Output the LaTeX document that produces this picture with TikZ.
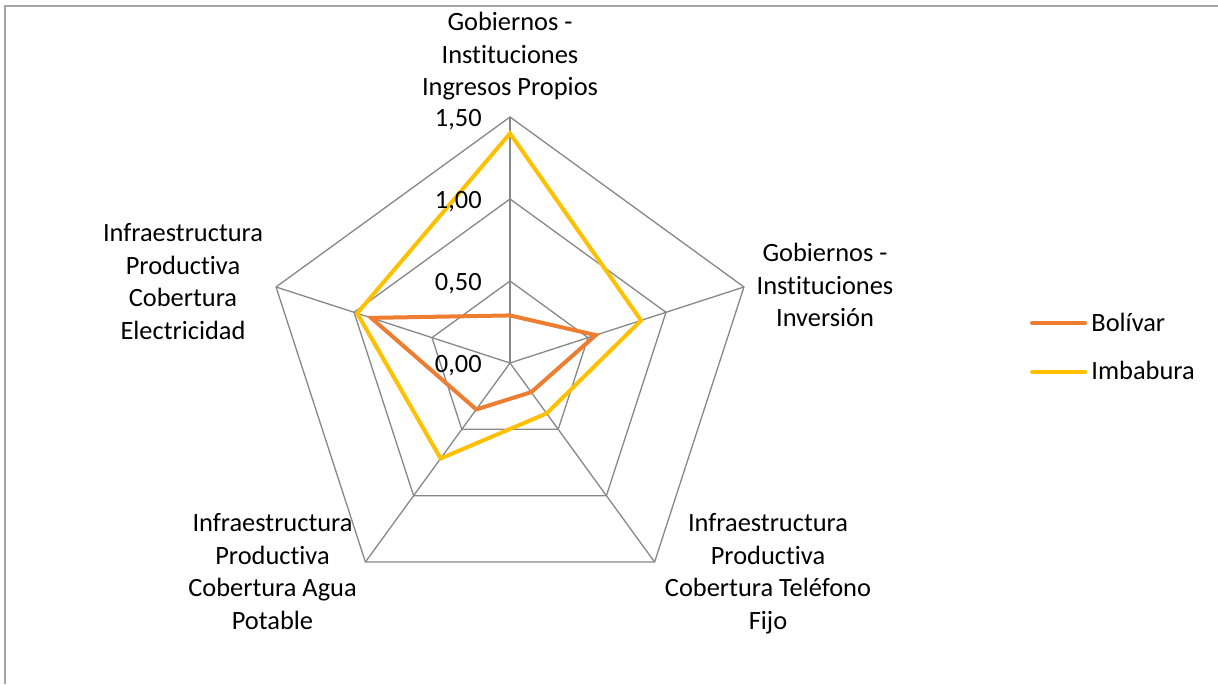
\documentclass[tikz,border=0pt]{standalone}
\usepackage{fontspec}
\setmainfont[Ligatures={NoCommon,NoRequired,NoContextual},Contextuals={NoAlternate}]{Carlito}
\definecolor{gridgray}{HTML}{878787}
\definecolor{marcogray}{HTML}{A6A6A6}
\definecolor{bolivar}{HTML}{ED7D31}
\definecolor{imbabura}{HTML}{FFC000}
\newcommand\etiqueta{\fontsize{13.2}{16.25}\selectfont}
\begin{document}
\begin{tikzpicture}[x=0.5pt,y=0.5pt]
    % Styles
    \tikzstyle{grid} = [draw=gridgray, line width=0.65pt, line join=miter]
    \tikzstyle{serie} = [line width=2pt, line join=miter]
    \tikzstyle{eje} = [font=\etiqueta, align=center, inner sep=0pt, anchor=base]
    \tikzstyle{valor} = [font=\etiqueta, inner sep=0pt, anchor=base east]
    \tikzstyle{leyenda} = [font=\etiqueta, inner sep=0pt, anchor=base west]

    \useasboundingbox (0,0) rectangle (1218,684);
    % Marco
    \draw[marcogray, line width=1pt] (5,0) |- (1218,678);

    \coordinate (centro) at (510,321);
    \begin{scope}[shift={(centro)}]
        % Vertices
        \foreach \a [count=\i] in {90,18,-54,-126,162}
            \coordinate (v\i) at (\a:246);
        % Red
        \foreach \r in {82,164,246}
            \draw[grid] (90:\r) -- (18:\r) -- (-54:\r) -- (-126:\r) -- (162:\r) -- cycle;
        \foreach \i in {1,...,5}
            \draw[grid] (centro) -- (v\i);
        % Series
        \draw[serie, bolivar] (90:0.29*164) -- (18:0.55*164) -- (-54:0.22*164)
            -- (-126:0.35*164) -- (162:0.89*164) -- cycle;
        \draw[serie, imbabura] (90:1.40*164) -- (18:0.84*164) -- (-54:0.38*164)
            -- (-126:0.72*164) -- (162:0.98*164) -- cycle;
    \end{scope}

    % Valores
    \node (t150) [valor] at (482,557) {1,50};
    \node (t100) [valor] at (482,475) {1,00};
    \node (t050) [valor] at (482,393) {0,50};
    \node (t000) [valor] at (482,311) {0,00};

    % Ejes (base = ultima linea)
    \node (ingresos) [eje] at (510,588) {Gobiernos -\\Instituciones\\Ingresos Propios};
    \node (inversion) [eje] at (825,357) {Gobiernos -\\Instituciones\\Inversión};
    \node (telefono) [eje] at (768,54.5) {Infraestructura\\Productiva\\Cobertura Teléfono\\Fijo};
    \node (agua) [eje] at (272.5,54.5) {Infraestructura\\Productiva\\Cobertura Agua\\Potable};
    \node (electricidad) [eje] at (183,344.5) {Infraestructura\\Productiva\\Cobertura\\Electricidad};

    % Leyenda
    \coordinate (lb1) at (1032,361);
    \coordinate (lb2) at (1085,361);
    \coordinate (li1) at (1032,312);
    \coordinate (li2) at (1085,312);
    \draw[serie, bolivar, line cap=round] (lb1) -- (lb2);
    \draw[serie, imbabura, line cap=round] (li1) -- (li2);
    \node (lbolivar) [leyenda] at (1091,352) {Bolívar};
    \node (limbabura) [leyenda] at (1091,304) {Imbabura};
\end{tikzpicture}
\end{document}
